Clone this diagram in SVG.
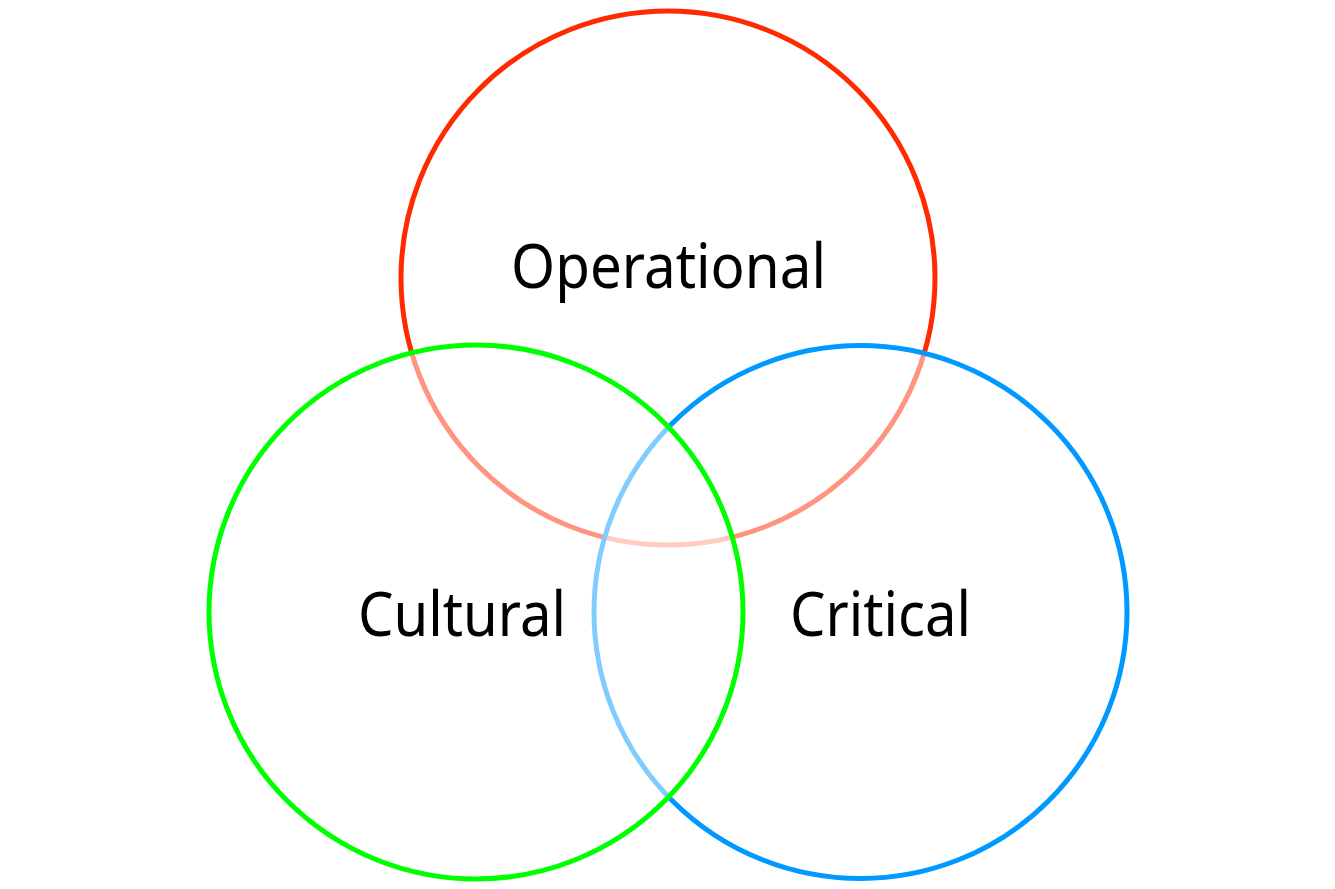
<svg xmlns="http://www.w3.org/2000/svg" width="1335" height="889" viewBox="0 0 1335 889">
<style>
.c{stroke-width:5;fill:#fff;fill-opacity:0.5}
.t{font-family:"Noto Sans","Open Sans",sans-serif;font-size:62px;fill:#000;text-anchor:middle}
</style>
<rect width="1335" height="889" fill="#fff"/>
<g id="connectors"></g>
<g id="operational">
<circle cx="668" cy="278" r="267" class="c" stroke="#FF2A00" fill="none"/>
</g>
<g id="critical">
<circle cx="860.5" cy="612" r="266.5" class="c" stroke="#0099FF"/>
</g>
<g id="cultural">
<circle cx="476" cy="612" r="267" class="c" stroke="#00FF00"/>
</g>
<g id="labels">
<text class="t" x="668.5" y="288" textLength="315" lengthAdjust="spacingAndGlyphs">Operational</text>
<text class="t" x="462" y="636" textLength="208" lengthAdjust="spacingAndGlyphs">Cultural</text>
<text class="t" x="880.5" y="636" textLength="181" lengthAdjust="spacingAndGlyphs">Critical</text>
</g>
</svg>
